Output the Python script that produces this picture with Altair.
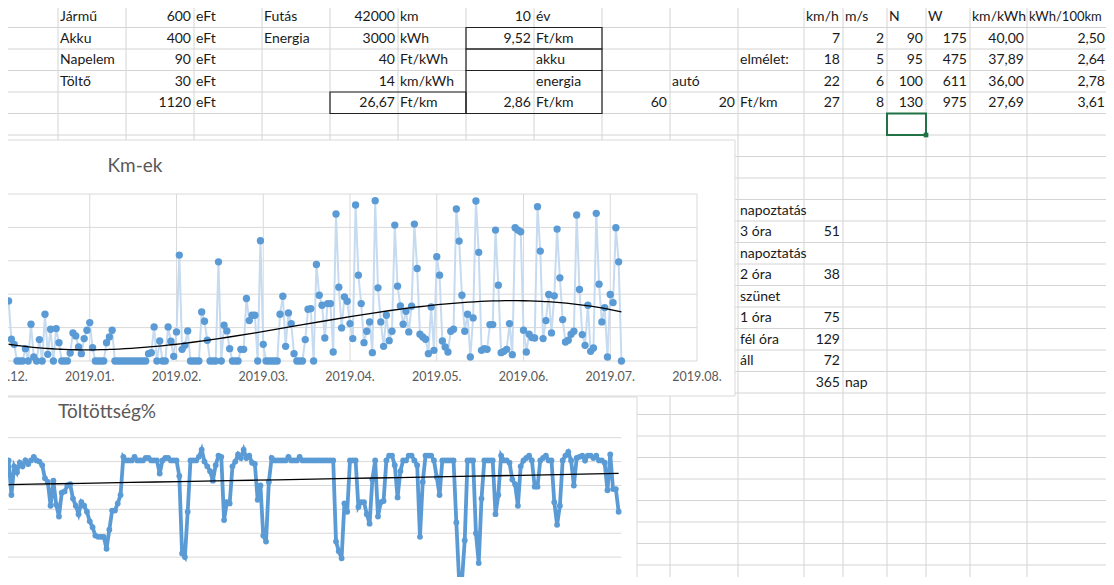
import altair as alt
import pandas as pd

# ------------------------------------------------------------------ data
# spreadsheet block (rows 0-4)
cost_items = ["Jármű", "Akku", "Napelem", "Töltő", ""]
cost_eft = ["600", "400", "90", "30", "1120"]
cost_unit = ["eFt", "eFt", "eFt", "eFt", "eFt"]
usage_labels = ["Futás", "Energia", "", "", ""]
usage_values = ["42000", "3000", "40", "14", "26,67"]
usage_units = ["km", "kWh", "Ft/kWh", "km/kWh", "Ft/km"]
perkm_values = ["10", "9,52", "", "", "2,86"]
perkm_units = ["év", "Ft/km", "akku", "energia", "Ft/km"]
car_cells = [(3, 10, "autó"), (4, 9, "60"), (4, 10, "20"), (4, 11, "Ft/km"), (2, 11, "elmélet:")]

speed_headers = ["km/h", "m/s", "N", "W", "km/kWh", "kWh/100km"]
speed_kmh = ["7", "18", "22", "27"]
speed_ms = ["2", "5", "6", "8"]
force_n = ["90", "95", "100", "130"]
power_w = ["175", "475", "611", "975"]
km_per_kwh = ["40,00", "37,89", "36,00", "27,69"]
kwh_per_100km = ["2,50", "2,64", "2,78", "3,61"]

mode_labels = ["napoztatás", "3 óra", "napoztatás", "2 óra", "szünet", "1 óra", "fél óra", "áll", ""]
mode_days = ["", "51", "", "38", "", "75", "129", "72", "365"]
total_unit = "nap"

# chart series (daily values starting 2018-12-03 = day 2 after 2018-12-01)
km_values = [
    18, 6.5, 5, 0, 0, 0, 3.7, 0, 11, 1.2, 0, 6.4, 0, 14, 2, 9.5, 0, 9.7, 5.5, 0, 0,
    0, 2.4, 8.4, 7.5, 4.2, 2.2, 6.7, 9.2, 11.5, 4, 0, 0, 0, 0, 5.5, 7.2, 9.2,
    0, 0, 0, 0, 0, 0, 0, 0, 0, 0, 0, 0, 2.2, 2.5, 10.2, 0, 6, 0, 0, 10.2,
    5.9, 1.4, 8.7, 31.7, 3.5, 4.7, 9, 0, 0, 0, 0, 14.7, 11.9, 6.2, 0, 0, 0,
    29.7, 0, 10.7, 9, 3.7, 0, 0, 0, 3.5, 3.5, 18.7, 12.1, 13.7, 13.7, 0, 36, 5,
    0, 0, 0, 0, 0, 14, 19.4, 4.4, 14.4, 11.2, 2.2, 0, 0, 0, 6.4, 15.5, 15.7,
    0, 28.9, 19.7, 16.7,
    6.9, 17.2, 17.2, 2.7, 44, 22.1, 9.9, 19.2, 17.9, 11.2, 6.7, 46.7, 25.7, 17.2,
    5.5, 8.9, 11.7, 2.5, 48, 21.9, 11.7, 4.4, 13.7, 6.1, 8.9, 40.7, 22.4, 16.5,
    11, 14.9, 8.7, 16.4, 41, 27.7, 8, 7.2, 6.5, 2.2, 16.2, 3.2, 31.2, 25.7, 6,
    4.2, 2.7, 8.9, 9.5, 45.5, 35.9, 19.7, 8.9, 14, 1.2, 12.9, 47.9, 32.5, 3.2,
    3.7, 3.5, 10.9, 10.9, 39.2, 22.7, 2.5, 2.9, 3.5, 11.2, 1.9, 39.9, 39.2, 38.7,
    9.2, 2.7, 8, 7, 6.9, 46.2, 32.9, 6.7, 12.1, 19.9, 8.4, 19.5, 39.5, 24.9, 12.4,
    5.7, 6.2, 8, 8.9, 43.7, 21.4, 7.9, 4.7, 16.7, 2.9, 3.9, 44.2, 23, 11.7, 16,
    1.2, 19.9, 17.5, 39.9, 29.7, 0,
]
charge_values = [
    101, 72, 96, 91, 99, 96, 101, 98, 101, 104, 101, 100, 97,
    86, 83, 63, 84, 64, 54, 74, 75, 80, 81, 69, 63, 56, 66, 63, 58, 50, 45, 38,
    37, 37, 37, 27, 43, 59, 59, 65, 72,
    104, 101, 101, 101, 104, 101, 101, 101, 103, 103, 101, 101, 101,
    90, 101, 103, 103, 101, 101, 101,
    88, 23, 20, 58,
    101, 101, 101, 104, 110, 100, 96, 92, 84, 97, 105, 104,
    51, 66, 65, 96, 100, 106, 103, 110, 103, 105, 99, 98, 68, 80, 38, 33, 83, 103,
    101, 101, 101, 101, 101, 104, 101, 101, 101, 104, 101, 101, 101, 101, 101, 101,
    101, 101, 101, 101, 101, 101,
    33, 25, 19, 65, 58,
    101, 101, 101,
    62, 66, 66, 56, 48, 85, 101, 54, 66, 67,
    101, 105, 105, 97, 70, 92, 101, 101, 105, 105, 101, 97,
    37, 83, 105, 105, 105, 101, 87, 72, 101, 101, 101, 101, 101,
    49, 0, 0, 34, 101, 101, 101, 40, 15, 69, 101, 101, 101, 101,
    56, 72, 105, 101, 101, 99, 85, 81, 63, 96, 101, 103, 105, 101,
    79, 79, 101, 103, 105, 101, 101, 66, 47, 63, 101, 105, 108, 101,
    80, 103, 104, 105, 101, 105, 105, 103, 105, 101, 101, 99, 76, 106, 77, 77, 58,
]
first_day = 2
month_tick_days = [0, 31, 62, 93, 124, 155, 186, 217, 248]
month_tick_labels = ["2018.12.", "2019.01.", "2019.02.", "2019.03.", "2019.04.",
                     "2019.05.", "2019.06.", "2019.07.", "2019.08."]
km_grid = [0, 10, 20, 30, 40, 50]
charge_grid = [0, 20, 40, 60, 80, 100, 120]

# ------------------------------------------------------------------ layout
COL_EDGES = [-10, 58, 126, 194, 262, 330, 398, 466, 534, 602, 670, 738,
             804, 843, 887, 926, 970, 1027, 1108, 1190]
ROW_TOP, ROW_H, N_ROWS = 6, 21.5, 28
FONT = "Lato"
GRID = "#d4d4d4"
BLUE = "#5b9bd5"
GREY_TXT = "#595959"

PX = alt.Scale(domain=[8, 1106], range=[0, 1098], nice=False, zero=False)
PY = alt.Scale(domain=[8, 577], range=[0, 569], nice=False, zero=False)
DAYX = alt.Scale(domain=[0, 248], range=[-5, 689], nice=False, zero=False)
KMY = alt.Scale(domain=[0, 50], range=[353, 186], nice=False, zero=False)
CHY = alt.Scale(domain=[0, 120], range=[573, 429.7], nice=False, zero=False)


def row_top(r):
    return ROW_TOP + ROW_H * r


def is_num(s):
    return s.replace(",", "").replace(".", "").isdigit()


cells = []


def add(r, c, t):
    if t:
        cells.append((r, c, t))


for r in range(5):
    add(r, 1, cost_items[r]); add(r, 2, cost_eft[r]); add(r, 3, cost_unit[r])
    add(r, 4, usage_labels[r]); add(r, 5, usage_values[r]); add(r, 6, usage_units[r])
    add(r, 7, perkm_values[r]); add(r, 8, perkm_units[r])
for r, c, t in car_cells:
    add(r, c, t)
for i, h in enumerate(speed_headers):
    add(0, 12 + i, h)
for i in range(4):
    for j, col in enumerate([speed_kmh, speed_ms, force_n, power_w, km_per_kwh, kwh_per_100km]):
        add(1 + i, 12 + j, col[i])
for i in range(len(mode_labels)):
    add(9 + i, 11, mode_labels[i]); add(9 + i, 12, mode_days[i])
add(17, 13, total_unit)

txt_rows = []
for r, c, t in cells:
    right = is_num(t)
    x = COL_EDGES[c + 1] - 3 if right else COL_EDGES[c] + 2
    size = 13 if (r == 0 and c == 17) else 14
    txt_rows.append({"x": x, "y": row_top(r) + ROW_H / 2 + 0.5, "t": t, "right": right, "s": size})
txt = pd.DataFrame(txt_rows)

hlines = pd.DataFrame({"y": [row_top(r) for r in range(1, N_ROWS)]})
hlines["x0"], hlines["x1"] = -10, 1200
vlines = pd.DataFrame({"x": COL_EDGES[1:-1]})
vlines["y0"], vlines["y1"] = 8, 600

boxes_def = [(5, 6, 4, 4), (7, 8, 1, 1), (7, 8, 2, 2), (7, 8, 3, 4)]
boxes = pd.DataFrame([{"x0": COL_EDGES[a], "x1": COL_EDGES[b + 1],
                       "y0": row_top(r0), "y1": row_top(r1 + 1)} for a, b, r0, r1 in boxes_def])
sel = pd.DataFrame([{"x0": COL_EDGES[14], "x1": COL_EDGES[15], "y0": row_top(5), "y1": row_top(6)}])

frames = pd.DataFrame([{"x0": -5, "x1": 735, "y0": 140, "y1": 396},
                       {"x0": -5, "x1": 637, "y0": 397, "y1": 600}])
titles = pd.DataFrame([{"x": 135, "y": 166, "t": "Km-ek"},
                       {"x": 107, "y": 412, "t": "Töltöttség%"}])


def pos(f, s):
    return alt.X(f, type="quantitative", scale=s, axis=None)


def posy(f, s):
    return alt.Y(f, type="quantitative", scale=s, axis=None)


def cell_text(df, align):
    return alt.Chart(df).mark_text(align=align, baseline="middle", font=FONT,
                                   color="#1a1a1a").encode(
        x=pos("x", PX), y=posy("y", PY), text="t:N",
        size=alt.Size("s:Q", scale=None, legend=None))


sheet = alt.layer(
    alt.Chart(hlines).mark_rule(color=GRID, strokeWidth=1).encode(
        x=pos("x0", PX), x2="x1", y=posy("y", PY)),
    alt.Chart(vlines).mark_rule(color=GRID, strokeWidth=1).encode(
        x=pos("x", PX), y=posy("y0", PY), y2="y1"),
    cell_text(txt[~txt.right], "left"),
    cell_text(txt[txt.right], "right"),
    alt.Chart(boxes).mark_rect(fillOpacity=0, stroke="#222222", strokeWidth=1.2).encode(
        x=pos("x0", PX), x2="x1", y=posy("y0", PY), y2="y1"),
    alt.Chart(sel).mark_rect(fillOpacity=0, stroke="#217346", strokeWidth=2).encode(
        x=pos("x0", PX), x2="x1", y=posy("y0", PY), y2="y1"),
    alt.Chart(sel).mark_square(color="#217346", size=22, opacity=1).encode(
        x=pos("x1", PX), y=posy("y1", PY)),
    alt.Chart(frames).mark_rect(fill="white", stroke="#d9d9d9", strokeWidth=1).encode(
        x=pos("x0", PX), x2="x1", y=posy("y0", PY), y2="y1"),
    alt.Chart(titles).mark_text(align="center", baseline="middle", font=FONT,
                                fontSize=19, color=GREY_TXT).encode(
        x=pos("x", PX), y=posy("y", PY), text="t:N"),
)

# ---------------- chart 1: Km-ek
km_df = pd.DataFrame({"day": [first_day + i for i in range(len(km_values))], "km": km_values})
km_h = pd.DataFrame({"v": km_grid}); km_h["d0"], km_h["d1"] = -10, 248
km_v = pd.DataFrame({"day": month_tick_days}); km_v["lo"], km_v["hi"] = 0, 50
lab = pd.DataFrame({"day": month_tick_days, "t": month_tick_labels})

chart1 = alt.layer(
    alt.Chart(km_h).mark_rule(color="#d9d9d9", strokeWidth=1).encode(
        x=pos("d0", DAYX), x2="d1", y=posy("v", KMY)),
    alt.Chart(km_v[km_v.day > 0]).mark_rule(color="#d9d9d9", strokeWidth=1).encode(
        x=pos("day", DAYX), y=posy("lo", KMY), y2="hi"),
    alt.Chart(lab).mark_text(font=FONT, fontSize=12.5, color=GREY_TXT, baseline="middle").encode(
        x=pos("day", DAYX), y=alt.value(369), text="t:N"),
    alt.Chart(km_df).mark_line(color="#c6dbf0", strokeWidth=2).encode(
        x=pos("day", DAYX), y=posy("km", KMY)),
    alt.Chart(km_df).mark_circle(color=BLUE, size=54, opacity=1).encode(
        x=pos("day", DAYX), y=posy("km", KMY)),
    alt.Chart(km_df).transform_regression("day", "km", method="poly", order=3).mark_line(
        color="black", strokeWidth=1.3).encode(
        x=pos("day", DAYX), y=posy("km", KMY)),
)

# ---------------- chart 2: Töltöttség%
ch_df = pd.DataFrame({"day": [first_day + i for i in range(len(charge_values))], "pct": charge_values})
ch_h = pd.DataFrame({"v": charge_grid}); ch_h["d0"], ch_h["d1"] = -10, 221

chart2 = alt.layer(
    alt.Chart(ch_h).mark_rule(color="#d9d9d9", strokeWidth=1).encode(
        x=pos("d0", DAYX), x2="d1", y=posy("v", CHY)),
    alt.Chart(ch_df).mark_line(color=BLUE, strokeWidth=3.8).encode(
        x=pos("day", DAYX), y=posy("pct", CHY)),
    alt.Chart(ch_df).mark_circle(color=BLUE, size=34, opacity=1).encode(
        x=pos("day", DAYX), y=posy("pct", CHY)),
    alt.Chart(ch_df).transform_regression("day", "pct", method="poly", order=2).mark_line(
        color="black", strokeWidth=1.3).encode(
        x=pos("day", DAYX), y=posy("pct", CHY)),
)

chart = alt.layer(sheet, chart1, chart2).resolve_scale(
    x="independent", y="independent", size="independent"
).properties(
    width=1098, height=569, autosize="none", padding=0, background="white"
).configure_view(stroke=None)

chart.save("out.html", embed_options={"renderer": "svg", "actions": False})
